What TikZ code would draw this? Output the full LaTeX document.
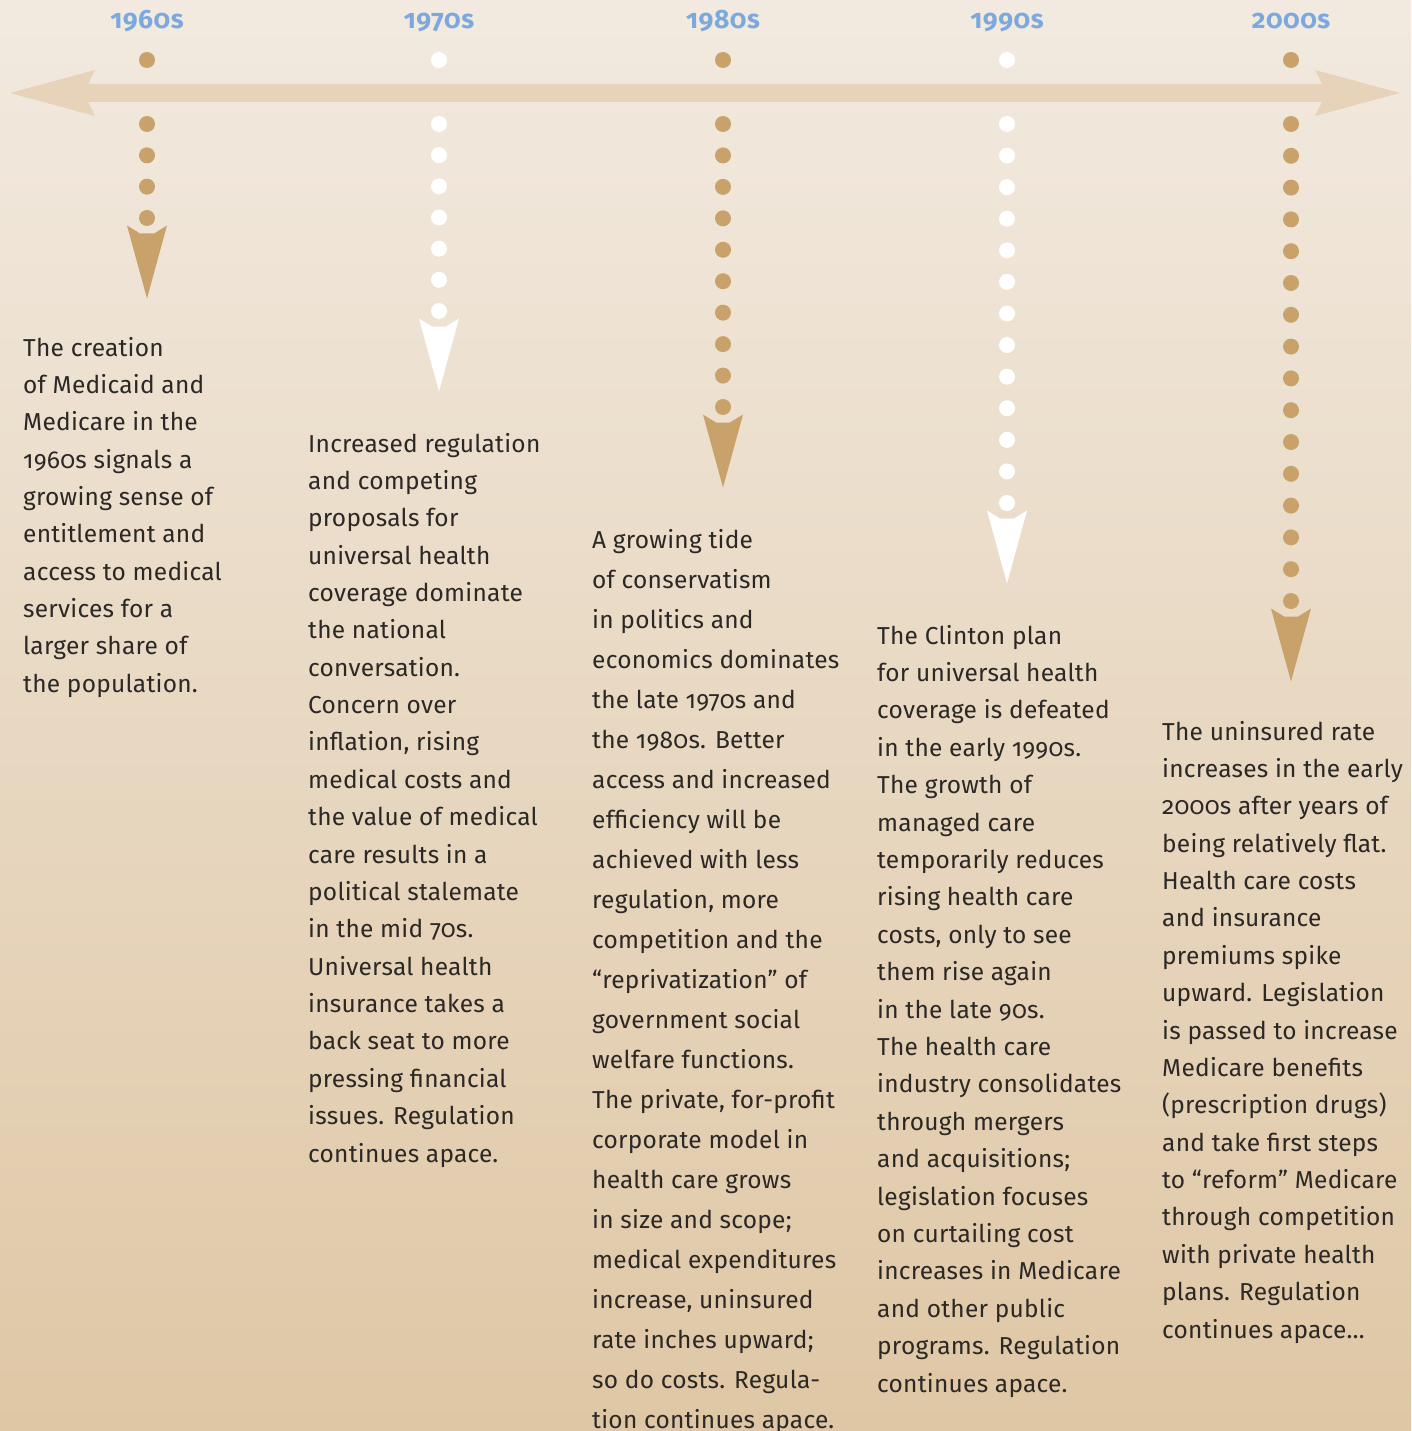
\documentclass[tikz,border=0pt]{standalone}
\usepackage{fontspec}
\setmainfont{Fira Sans}[Numbers=OldStyle, LetterSpace=1]
\newfontfamily\yearfont{Fira Sans}[Numbers=OldStyle, BoldFont={Fira Sans Bold}, LetterSpace=2]
\definecolor{bgtop}{HTML}{F2EAE0}
\definecolor{bgbot}{HTML}{DFC7A5}
\definecolor{band}{HTML}{E6D3B9}
\definecolor{brn}{HTML}{C8A26A}
\definecolor{yearblue}{HTML}{7BA9DE}
\definecolor{ink}{HTML}{2B2825}
\newcommand\dothead[5]{% x, n dots, last dot y, colour, name
  \pgfmathsetmacro\mysp{(#3-124)/(#2-1)}
  \foreach \i in {1,...,#2} {\fill[#4] (#1,{124+(\i-1)*\mysp}) circle[radius=8pt];}
  \pgfmathsetmacro\myhy{#3+7.5}
  \fill[#4] ({#1-20},\myhy) -- ({#1-7},{\myhy+8}) -- ({#1+7},{\myhy+8}) -- ({#1+20},\myhy) -- (#1,{\myhy+73}) -- cycle;
  \coordinate (#5) at (#1,{\myhy+73});
}
\tikzset{
  year/.style={anchor=base, inner sep=0, text=yearblue, font=\yearfont\bfseries\fontsize{26.5}{26.5}\selectfont},
  body/.style={anchor=base west, inner sep=0, text=ink},
}
\newcommand\blocktext[2]{\begin{minipage}[t]{300pt}\fontsize{24.5}{#1}\selectfont\raggedright #2\end{minipage}}
\begin{document}
\begin{tikzpicture}[x=1pt,y=-1pt]
\shade[top color=bgtop, bottom color=bgbot] (0,0) rectangle (1411,1431);
\useasboundingbox (0,0) rectangle (1411,1431);
% main band
\fill[band] (10,93) -- (95,70) -- (88,84) -- (1322,84) -- (1315,70) -- (1400,93) -- (1315,116) -- (1322,102) -- (88,102) -- (95,116) -- cycle;
% years
\foreach \x/\y/\c/\n in {147/1960s/brn/a,439/1970s/white/b,723/1980s/brn/c,1007/1990s/white/d,1291/2000s/brn/e}{
  \node[year] (y\n) at (\x,29) {\y};
  \fill[\c] (\x,60) circle[radius=8pt];
}
\dothead{147}{4}{218}{brn}{ha}
\dothead{439}{7}{311}{white}{hb}
\dothead{723}{10}{407}{brn}{hc}
\dothead{1007}{13}{503}{white}{hd}
\dothead{1291}{16}{601}{brn}{he}
% texts
\node[body] (ta) at (23,356) {\blocktext{37.35}{The creation\\of Medicaid and\\Medicare in the\\1960s signals a\\growing sense of\\entitlement and\\access to medical\\services for a\\larger share of\\the population.}};
\node[body] (tb) at (308,452) {\blocktext{37.37}{Increased regulation\\and competing\\proposals for\\universal health\\coverage dominate\\the national\\conversation.\\Concern over\\inflation, rising\\medical costs and\\the value of medical\\care results in a\\political stalemate\\in the mid 70s.\\Universal health\\insurance takes a\\back seat to more\\pressing financial\\issues. Regulation\\continues apace.}};
\node[body] (tc) at (592,548) {\blocktext{40}{A growing tide\\of conservatism\\in politics and\\economics dominates\\the late 1970s and\\the 1980s. Better\\access and increased\\efficiency will be\\achieved with less\\regulation, more\\competition and the\\“reprivatization” of\\government social\\welfare functions.\\The private, for-profit\\corporate model in\\health care grows\\in size and scope;\\medical expenditures\\increase, uninsured\\rate inches upward;\\so do costs. Regula-\\tion continues apace.}};
\node[body] (td) at (877,644) {\blocktext{37.4}{The Clinton plan\\for universal health\\coverage is defeated\\in the early 1990s.\\The growth of\\managed care\\temporarily reduces\\rising health care\\costs, only to see\\them rise again\\in the late 90s.\\The health care\\industry consolidates\\through mergers\\and acquisitions;\\legislation focuses\\on curtailing cost\\increases in Medicare\\and other public\\programs. Regulation\\continues apace.}};
\node[body] (te) at (1162,740) {\blocktext{37.375}{The uninsured rate\\increases in the early\\2000s after years of\\being relatively flat.\\Health care costs\\and insurance\\premiums spike\\upward. Legislation\\is passed to increase\\Medicare benefits\\(prescription drugs)\\and take first steps\\to “reform” Medicare\\through competition\\with private health\\plans. Regulation\\continues apace…}};
\end{tikzpicture}
\end{document}
